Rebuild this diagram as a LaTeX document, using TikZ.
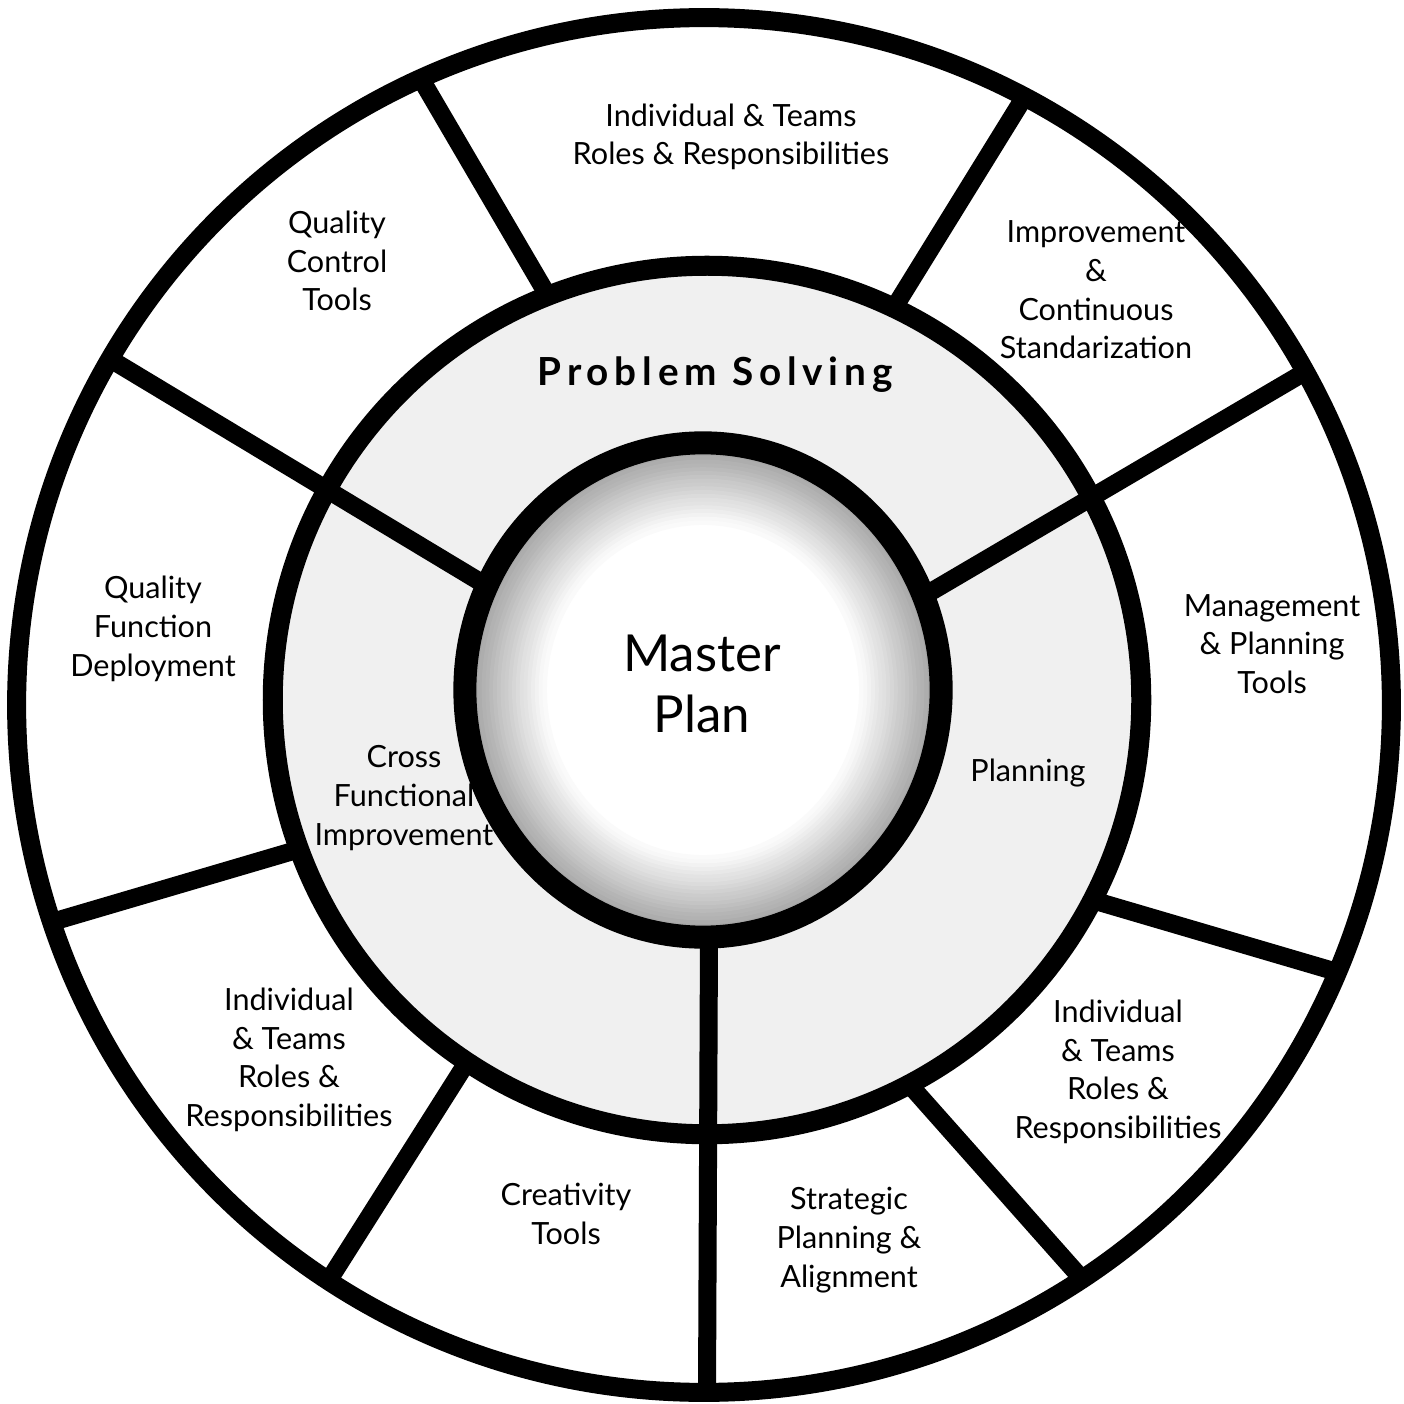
\documentclass[tikz,border=0pt]{standalone}
\usepackage{fontspec}
\setmainfont{Lato}
\begin{document}
\begin{tikzpicture}[x=0.01cm,y=-0.01cm]
\tikzset{
  outerring/.style={draw=black, line width=0.19cm},
  midring/.style={draw=black, line width=0.20cm},
  innerring/.style={draw=black, line width=0.23cm},
  spoke/.style={draw=black, line width=0.18cm},
  lbl/.style={align=center, inner sep=0pt, font=\fontsize{8.7}{11}\selectfont},
  big/.style={align=center, inner sep=0pt, font=\fontsize{14.5}{17.5}\selectfont},
  ps/.style={inner sep=0pt, font=\fontsize{11}{13}\selectfont\bfseries\addfontfeature{LetterSpace=15}},
}
\fill[white] (0,0) rectangle (1404,1404);
\useasboundingbox (0,0) rectangle (1404,1404);

\coordinate (co) at (704,705);
\coordinate (cm) at (707,700);
\coordinate (ci) at (703,690);

% fills
\fill[black!6] (cm) circle[radius=4.34cm];
\fill[white] (ci) ellipse[x radius=2.38cm, y radius=2.47cm];
\foreach \k in {0,...,21} {
  \pgfmathtruncatemacro\g{40-1.8*\k}
  \draw[black!\g, line width=0.045cm] (ci) ellipse[x radius={2.38cm-\k*0.038cm}, y radius={2.47cm-\k*0.038cm}];
}

% spoke end points
\coordinate (s1a) at (548,296);  \coordinate (s1b) at (421,79);
\coordinate (s2a) at (894,308);  \coordinate (s2b) at (1025,96);
\coordinate (s3a) at (922,597);  \coordinate (s3b) at (1305,372);
\coordinate (s4a) at (1092,900); \coordinate (s4b) at (1337,972);
\coordinate (s5a) at (908,1083); \coordinate (s5b) at (1082,1279);
\coordinate (s6a) at (709,935);  \coordinate (s6b) at (707,1392);
\coordinate (s7a) at (469,1059); \coordinate (s7b) at (329,1280);
\coordinate (s8a) at (300,849);  \coordinate (s8b) at (52,922);
\coordinate (s9a) at (487,586);  \coordinate (s9b) at (110,359);

\foreach \i in {1,...,9} {\draw[spoke] (s\i a) -- (s\i b);}

% rings
\draw[outerring] (co) circle[radius=6.87cm];
\draw[midring] (cm) circle[radius=4.34cm];
\draw[innerring] (ci) ellipse[x radius=2.38cm, y radius=2.47cm];

% labels
\node[big] (master) at (702,684) {Master\\Plan};
\node[ps] (prob) at (715,375) {Problem Solving};
\node[lbl] (plan) at (1028,773) {Planning};
\node[lbl] (cross) at (404,798) {Cross\\Functional\\Improvement};

\node[lbl] (t1) at (731,137) {Individual \& Teams\\Roles \& Responsibilities};
\node[lbl] (t2) at (1096,290) {Improvement\\\&\\Continuous\\Standarization};
\node[lbl] (t3) at (1272,644) {Management\\\& Planning\\Tools};
\node[lbl] (t4) at (1118,1072) {Individual\\\& Teams\\Roles \&\\Responsibilities};
\node[lbl] (t5) at (849,1240) {Strategic\\Planning \&\\Alignment};
\node[lbl] (t6) at (566,1214) {Creativity\\Tools};
\node[lbl] (t7) at (289,1060) {Individual\\\& Teams\\Roles \&\\Responsibilities};
\node[lbl] (t8) at (153,629) {Quality\\Function\\Deployment};
\node[lbl] (t9) at (337,261) {Quality\\Control\\Tools};
\end{tikzpicture}
\end{document}
